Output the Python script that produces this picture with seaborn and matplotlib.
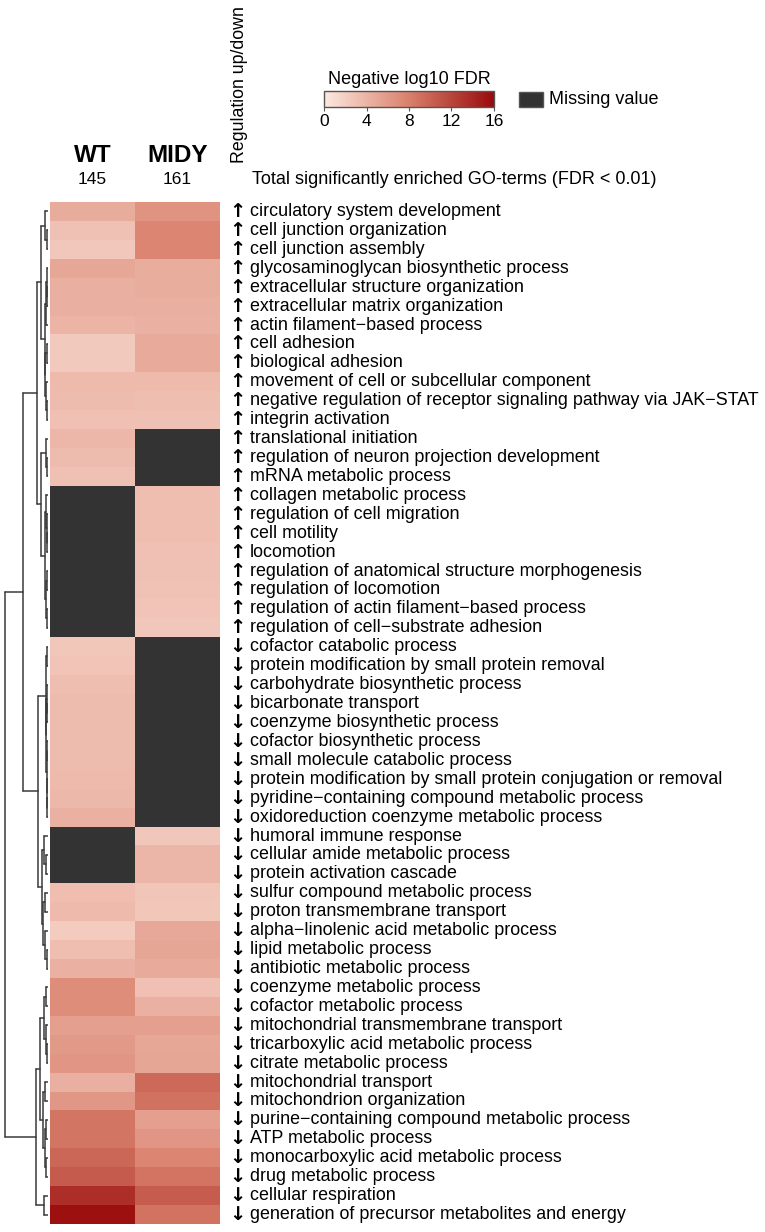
import numpy as np
import pandas as pd
import matplotlib
matplotlib.use("Agg")
import matplotlib.pyplot as plt
import seaborn as sns
from matplotlib.colors import LinearSegmentedColormap
from matplotlib.patches import Rectangle
from matplotlib import transforms
from matplotlib.cm import ScalarMappable
from matplotlib.colors import Normalize

nan = np.nan

terms = [
    "circulatory system development",
    "cell junction organization",
    "cell junction assembly",
    "glycosaminoglycan biosynthetic process",
    "extracellular structure organization",
    "extracellular matrix organization",
    "actin filament\u2212based process",
    "cell adhesion",
    "biological adhesion",
    "movement of cell or subcellular component",
    "negative regulation of receptor signaling pathway via JAK\u2212STAT",
    "integrin activation",
    "translational initiation",
    "regulation of neuron projection development",
    "mRNA metabolic process",
    "collagen metabolic process",
    "regulation of cell migration",
    "cell motility",
    "locomotion",
    "regulation of anatomical structure morphogenesis",
    "regulation of locomotion",
    "regulation of actin filament\u2212based process",
    "regulation of cell\u2212substrate adhesion",
    "cofactor catabolic process",
    "protein modification by small protein removal",
    "carbohydrate biosynthetic process",
    "bicarbonate transport",
    "coenzyme biosynthetic process",
    "cofactor biosynthetic process",
    "small molecule catabolic process",
    "protein modification by small protein conjugation or removal",
    "pyridine\u2212containing compound metabolic process",
    "oxidoreduction coenzyme metabolic process",
    "humoral immune response",
    "cellular amide metabolic process",
    "protein activation cascade",
    "sulfur compound metabolic process",
    "proton transmembrane transport",
    "alpha\u2212linolenic acid metabolic process",
    "lipid metabolic process",
    "antibiotic metabolic process",
    "coenzyme metabolic process",
    "cofactor metabolic process",
    "mitochondrial transmembrane transport",
    "tricarboxylic acid metabolic process",
    "citrate metabolic process",
    "mitochondrial transport",
    "mitochondrion organization",
    "purine\u2212containing compound metabolic process",
    "ATP metabolic process",
    "monocarboxylic acid metabolic process",
    "drug metabolic process",
    "cellular respiration",
    "generation of precursor metabolites and energy",
]

regulation = ["up"] * 23 + ["down"] * 31

# negative log10 FDR, NaN = missing value
wt = [4.6, 3.0, 2.5, 5.0, 4.4, 4.4, 4.0, 2.4, 2.4, 3.6, 3.4, 3.1, 3.8, 3.4, 3.0,
      nan, nan, nan, nan, nan, nan, nan, nan,
      2.6, 2.8, 3.3, 3.4, 3.4, 3.4, 3.4, 3.5, 3.7, 4.3,
      nan, nan, nan,
      3.2, 3.5, 2.3, 3.2, 4.3, 7.0, 7.0, 5.6, 6.0, 6.3, 4.4, 6.2,
      8.7, 8.7, 9.7, 10.5, 13.5, 15.6]
midy = [6.5, 7.6, 7.6, 4.5, 4.5, 4.4, 4.3, 4.8, 4.7, 3.5, 3.3, 3.0,
        nan, nan, nan,
        3.2, 3.3, 3.2, 3.1, 3.0, 2.9, 2.8, 2.5,
        nan, nan, nan, nan, nan, nan, nan, nan, nan, nan,
        2.5, 3.9, 3.9, 2.7, 2.6, 4.9, 5.1, 4.8, 3.1, 4.2, 5.6, 5.0, 5.1,
        9.5, 9.0, 5.6, 6.3, 7.6, 8.8, 10.4, 8.9]

groups = ["WT", "MIDY"]
group_totals = [145, 161]

# row dendrogram: [height, left, right], leaves are row indices
row_tree = [43,
            [25,
             [11,
              [7, [3, 0, [1.5, 1, 2]],
               [3.5, [2.5, [1.5, 3, [1, 4, 5]], 6], [3, [1.5, 7, 8], [2, 9, [1, 10, 11]]]]],
              [7, [2.5, 12, [1.5, 13, 14]],
               [3, [2, 15, [1.5, 16, [1, 17, 18]]], [2, [1.5, 19, 20], [1, 21, 22]]]]],
             [10,
              [2.5, [1.5, 23, 24], [2, [1, 25, [0.8, 26, 27]], [1.5, [1, 28, 29], [1, 30, [0.8, 31, 32]]]]],
              [6, [4, 33, [2, 34, 35]],
               [5, [3, 36, 37], [3, 38, [1.5, 39, 40]]]]]],
            [12,
             [8, [4, [2, 41, 42], [2.5, 43, [1.5, 44, 45]]],
              [5, [3, 46, 47], [3.5, [2, 48, 49], [2.5, 50, 51]]]],
             [4, 52, 53]]]

df = pd.DataFrame({"WT": wt, "MIDY": midy}, index=terms)

sns.set_style("white")
plt.rcParams["font.family"] = ["Liberation Sans", "DejaVu Sans"]
plt.rcParams["text.color"] = "black"
plt.rcParams["xtick.color"] = "black"

W, H = 765, 1232
fig = plt.figure(figsize=(W / 100, H / 100), dpi=100)


def rect(x0, y0, x1, y1):
    return [x0 / W, 1 - y1 / H, (x1 - x0) / W, (y1 - y0) / H]


def fx(x):
    return x / W


def fy(y):
    return 1 - y / H


cmap = LinearSegmentedColormap.from_list("fdr", ["#fde8df", "#d9806c", "#990a0a"])

# heatmap
ax = fig.add_axes(rect(50, 202, 220, 1224))
sns.heatmap(df, ax=ax, cmap=cmap, vmin=0, vmax=16, cbar=False,
            xticklabels=False, yticklabels=False, linewidths=0)
ax.set_facecolor("#333333")
ax.set_xlabel("")
ax.set_ylabel("")

# arrows and term labels
trans = transforms.blended_transform_factory(fig.transFigure, ax.transData)
for i, (term, reg) in enumerate(zip(terms, regulation)):
    arrow = "\u2191" if reg == "up" else "\u2193"
    ax.text(fx(237), i + 0.5, arrow, transform=trans, ha="center", va="center",
            fontsize=14, fontweight="bold", family="DejaVu Sans", color="black")
    ax.text(fx(250), i + 0.5, term, transform=trans, ha="left", va="center",
            fontsize=12.9, color="black")

# dendrogram
axd = fig.add_axes(rect(3, 202, 48, 1224))


def draw_tree(node):
    if isinstance(node, int):
        return node + 0.5, 0.0
    h, left, right = node
    yl, hl = draw_tree(left)
    yr, hr = draw_tree(right)
    axd.plot([hl, h], [yl, yl], color="#3a3a3a", lw=1.1)
    axd.plot([hr, h], [yr, yr], color="#3a3a3a", lw=1.1)
    axd.plot([h, h], [yl, yr], color="#3a3a3a", lw=1.1)
    return (yl + yr) / 2, h


draw_tree(row_tree)
axd.set_xlim(45, 0)
axd.set_ylim(len(terms), 0)
axd.axis("off")

# column headers
for j, (g, n) in enumerate(zip(groups, group_totals)):
    cx = 92.5 + 85 * j
    fig.text(fx(cx), fy(155), g, ha="center", va="center", fontsize=17.5, fontweight="bold")
    fig.text(fx(cx), fy(180), str(n), ha="center", va="center", fontsize=12.5)
fig.text(fx(252), fy(180), "Total significantly enriched GO-terms (FDR < 0.01)",
         ha="left", va="center", fontsize=13)
fig.text(fx(239), fy(163), "Regulation up/down", rotation=90, ha="center", va="bottom",
         fontsize=12.8)

# colour legend
cax = fig.add_axes(rect(324, 91, 494, 107))
cb = fig.colorbar(ScalarMappable(norm=Normalize(0, 16), cmap=cmap), cax=cax,
                  orientation="horizontal", ticks=[0, 4, 8, 12, 16])
cb.outline.set_edgecolor("#555555")
cb.outline.set_linewidth(1)
cax.tick_params(labelsize=12.5, length=3, color="#555555", pad=2)
fig.text(fx(409), fy(80), "Negative log10 FDR", ha="center", va="center", fontsize=13)

fig.patches.append(Rectangle((fx(519), fy(107)), 24 / W, 15 / H, transform=fig.transFigure,
                             facecolor="#333333", edgecolor="#555555", lw=1))
fig.text(fx(549), fy(100), "Missing value", ha="left", va="center", fontsize=13)

fig.savefig("out.png", dpi=100)
